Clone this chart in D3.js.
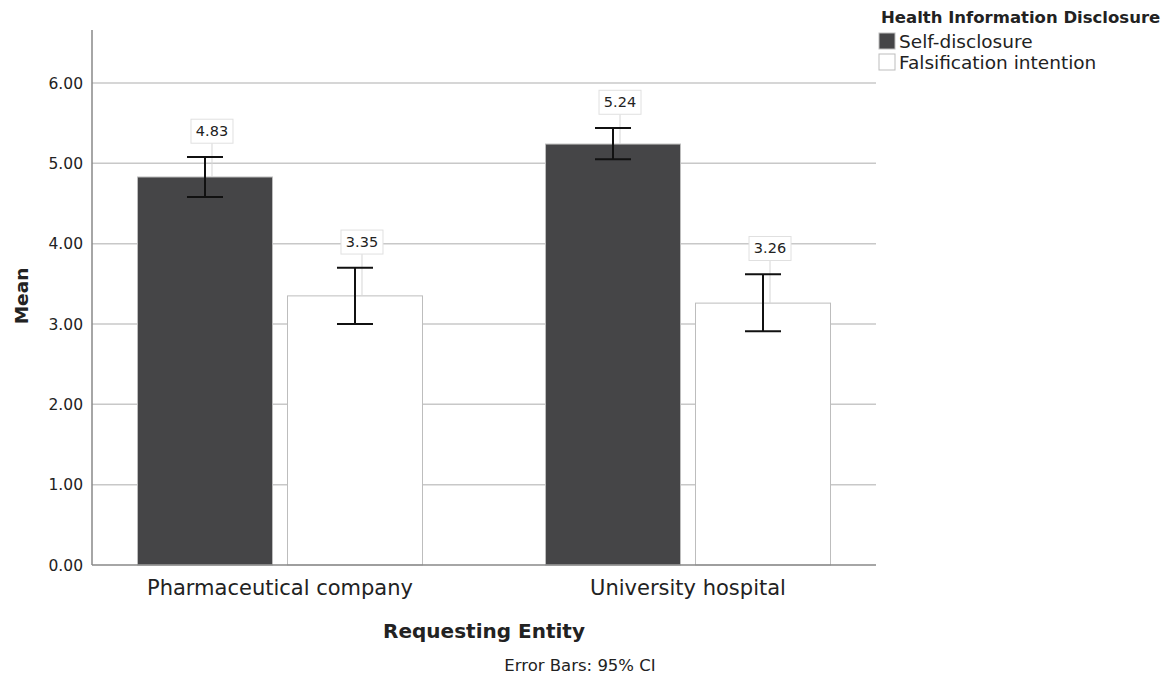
<!DOCTYPE html>
<html>
<head>
<meta charset="utf-8">
<script src="https://cdn.jsdelivr.net/npm/d3@7"></script>
<style>
  body { margin: 0; background: #fff; }
  text { font-family: "DejaVu Sans", sans-serif; fill: #222; }
</style>
</head>
<body>
<script>
var categories = ['Pharmaceutical company', 'University hospital'];
var seriesKeys = ['Self-disclosure', 'Falsification intention'];
var means = [[4.83, 3.35], [5.24, 3.26]];
var ciLow = [[4.58, 3.00], [5.05, 2.91]];
var ciHigh = [[5.08, 3.70], [5.44, 3.62]];
var yTicks = [0, 1, 2, 3, 4, 5, 6];

var width = 1166, height = 680;
var plot = {left: 92, right: 876, top: 30, bottom: 565};

var svg = d3.select('body').append('svg')
    .attr('width', width)
    .attr('height', height);

var y = d3.scaleLinear()
    .domain([0, 6])
    .range([565, 83]);

var x0 = d3.scaleBand()
    .domain(categories)
    .range([plot.left, plot.right])
    .paddingInner(0.3015)
    .paddingOuter(0.1115);

var x1 = d3.scaleBand()
    .domain(seriesKeys)
    .range([0, x0.bandwidth()])
    .paddingInner(0.1);

var color = d3.scaleOrdinal()
    .domain(seriesKeys)
    .range(['#454547', '#ffffff']);

// gridlines
svg.append('g')
  .selectAll('line')
  .data(yTicks.filter(function(d) { return d > 0; }))
  .enter().append('line')
    .attr('x1', plot.left)
    .attr('x2', plot.right)
    .attr('y1', function(d) { return y(d); })
    .attr('y2', function(d) { return y(d); })
    .attr('stroke', '#c8c8c8')
    .attr('stroke-width', 1.5);

// rows of data
var rows = [];
categories.forEach(function(c, i) {
  seriesKeys.forEach(function(k, j) {
    rows.push({cat: c, key: k, mean: means[i][j], lo: ciLow[i][j], hi: ciHigh[i][j]});
  });
});

function cx(d) { return x0(d.cat) + x1(d.key) + x1.bandwidth() / 2; }

svg.append('g')
  .selectAll('rect')
  .data(rows)
  .enter().append('rect')
    .attr('x', function(d) { return x0(d.cat) + x1(d.key); })
    .attr('y', function(d) { return y(d.mean); })
    .attr('width', x1.bandwidth())
    .attr('height', function(d) { return y(0) - y(d.mean); })
    .attr('fill', function(d) { return color(d.key); })
    .attr('stroke', '#bdbdbd')
    .attr('stroke-width', 1);

// axes lines
svg.append('line')
    .attr('x1', plot.left).attr('x2', plot.left)
    .attr('y1', plot.top).attr('y2', plot.bottom)
    .attr('stroke', '#888').attr('stroke-width', 1.5);
svg.append('line')
    .attr('x1', plot.left).attr('x2', plot.right)
    .attr('y1', plot.bottom).attr('y2', plot.bottom)
    .attr('stroke', '#888').attr('stroke-width', 1.5);

// leader lines + labels
var labelOffset = 0.32, capHalf = 18;
var lab = svg.append('g').selectAll('g')
  .data(rows)
  .enter().append('g');

lab.append('line')
    .attr('x1', function(d) { return cx(d) + 7; })
    .attr('x2', function(d) { return cx(d) + 7; })
    .attr('y1', function(d) { return y(d.hi + labelOffset) + 12; })
    .attr('y2', function(d) { return y(d.mean); })
    .attr('stroke', '#d6d6d6')
    .attr('stroke-width', 1);

// error bars
var eb = svg.append('g').selectAll('g')
  .data(rows)
  .enter().append('g')
    .attr('stroke', '#111')
    .attr('stroke-width', 2);
eb.append('line')
    .attr('x1', cx).attr('x2', cx)
    .attr('y1', function(d) { return y(d.lo); })
    .attr('y2', function(d) { return y(d.hi); });
eb.append('line')
    .attr('x1', function(d) { return cx(d) - capHalf; })
    .attr('x2', function(d) { return cx(d) + capHalf; })
    .attr('y1', function(d) { return y(d.hi); })
    .attr('y2', function(d) { return y(d.hi); });
eb.append('line')
    .attr('x1', function(d) { return cx(d) - capHalf; })
    .attr('x2', function(d) { return cx(d) + capHalf; })
    .attr('y1', function(d) { return y(d.lo); })
    .attr('y2', function(d) { return y(d.lo); });

lab.append('rect')
    .attr('x', function(d) { return cx(d) + 7 - 21; })
    .attr('y', function(d) { return y(d.hi + labelOffset) - 12; })
    .attr('width', 42)
    .attr('height', 24)
    .attr('fill', '#fff')
    .attr('stroke', '#e0e0e0');
lab.append('text')
    .attr('x', function(d) { return cx(d) + 7; })
    .attr('y', function(d) { return y(d.hi + labelOffset) + 5; })
    .attr('text-anchor', 'middle')
    .attr('font-size', '14.5px')
    .text(function(d) { return d.mean.toFixed(2); });

// y tick labels
svg.append('g')
  .selectAll('text')
  .data(yTicks)
  .enter().append('text')
    .attr('x', 83)
    .attr('y', function(d) { return y(d) + 5.5; })
    .attr('text-anchor', 'end')
    .attr('font-size', '15.5px')
    .attr('fill', '#333')
    .text(function(d) { return d.toFixed(2); });

// category labels
svg.append('g')
  .selectAll('text')
  .data(categories)
  .enter().append('text')
    .attr('x', function(d) { return x0(d) + x0.bandwidth() / 2; })
    .attr('y', 595)
    .attr('text-anchor', 'middle')
    .attr('font-size', '21px')
    .text(function(d) { return d; });

svg.append('text')
    .attr('x', 484)
    .attr('y', 638)
    .attr('text-anchor', 'middle')
    .attr('font-size', '20px')
    .attr('font-weight', 'bold')
    .text('Requesting Entity');

svg.append('text')
    .attr('transform', 'translate(28,' + 296 + ') rotate(-90)')
    .attr('text-anchor', 'middle')
    .attr('font-size', '18.5px')
    .attr('font-weight', 'bold')
    .text('Mean');

svg.append('text')
    .attr('x', 580)
    .attr('y', 671)
    .attr('text-anchor', 'middle')
    .attr('font-size', '16.5px')
    .text('Error Bars: 95% CI');

// legend
var legend = svg.append('g').attr('transform', 'translate(879, 0)');
legend.append('text')
    .attr('x', 2)
    .attr('y', 23)
    .attr('font-size', '16.5px')
    .attr('font-weight', 'bold')
    .text('Health Information Disclosure');
seriesKeys.forEach(function(key, i) {
  var row = legend.append('g').attr('transform', 'translate(0,' + (33 + i * 21) + ')');
  row.append('rect')
      .attr('width', 16).attr('height', 16)
      .attr('fill', color(key))
      .attr('stroke', '#bdbdbd');
  row.append('text')
      .attr('x', 20)
      .attr('y', 15)
      .attr('font-size', '18.5px')
      .text(key);
});
</script>
</body>
</html>
